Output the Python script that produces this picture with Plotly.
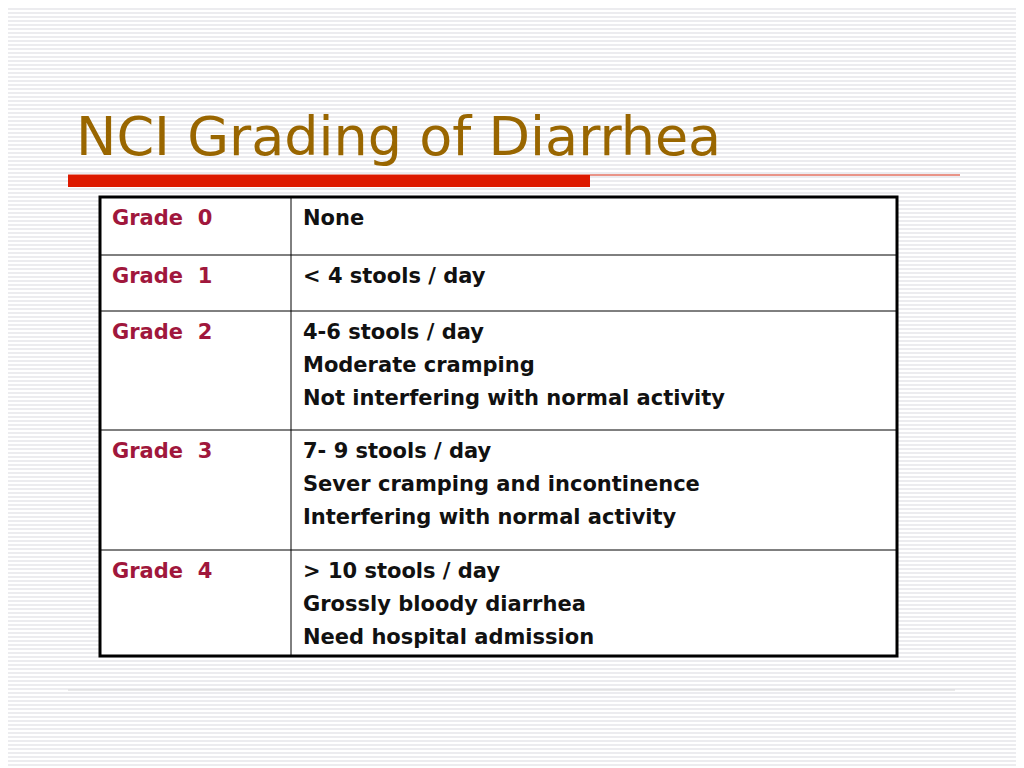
import plotly.graph_objects as go

title = "NCI Grading of Diarrhea"
grades = ["Grade  0", "Grade  1", "Grade  2", "Grade  3", "Grade  4"]
descriptions = [
    ["None"],
    ["< 4 stools / day"],
    ["4-6 stools / day", "Moderate cramping", "Not interfering with normal activity"],
    ["7- 9 stools / day", "Sever cramping and incontinence", "Interfering with normal activity"],
    ["> 10 stools / day", "Grossly bloody diarrhea", "Need hospital admission"],
]
row_bounds = [197, 255, 311, 430, 550, 656]

OFF = 8  # page body margin offset
def X(v): return v - OFF
def Y(v): return v - OFF

shapes = []
y = 1
while y < 780:
    shapes.append(dict(type="line", x0=-20, x1=1040, y0=Y(y), y1=Y(y), line=dict(color="#e6e6ea", width=1.5), layer="below"))
    y += 4

shapes.append(dict(type="line", x0=X(68), x1=X(960), y0=Y(175), y1=Y(175), line=dict(color="#d42a10", width=1)))
shapes.append(dict(type="rect", x0=X(68), x1=X(590), y0=Y(175), y1=Y(187), fillcolor="#dd1a00", line=dict(width=0)))
shapes.append(dict(type="line", x0=X(68), x1=X(955), y0=Y(690), y1=Y(690), line=dict(color="#d6d6d6", width=1)))

x0, xm, x1 = 100, 291, 897
shapes.append(dict(type="rect", x0=X(x0), x1=X(x1), y0=Y(row_bounds[0]), y1=Y(row_bounds[-1]), fillcolor="white", line=dict(color="black", width=3)))
shapes.append(dict(type="line", x0=X(xm), x1=X(xm), y0=Y(row_bounds[0]), y1=Y(row_bounds[-1]), line=dict(color="black", width=1)))
for yb in row_bounds[1:-1]:
    shapes.append(dict(type="line", x0=X(x0), x1=X(x1), y0=Y(yb), y1=Y(yb), line=dict(color="black", width=1)))

annotations = [dict(x=X(74), y=Y(136), text=title, showarrow=False, xanchor="left", yanchor="middle",
                    font=dict(family="DejaVu Sans", size=54, color="#996600"))]
font_b = "DejaVu Sans, sans-serif"
for i, g in enumerate(grades):
    top = row_bounds[i]
    annotations.append(dict(x=X(110), y=Y(top + 21), text="<b>%s</b>" % g, showarrow=False, xanchor="left", yanchor="middle",
                            font=dict(family=font_b, size=21, color="#a0173c")))
    for j, line in enumerate(descriptions[i]):
        annotations.append(dict(x=X(301), y=Y(top + 21 + 33 * j), text="<b>%s</b>" % line.replace("<", "&lt;").replace(">", "&gt;"),
                                showarrow=False, xanchor="left", yanchor="middle",
                                font=dict(family=font_b, size=21, color="#111111")))

fig = go.Figure()
fig.update_layout(width=1024, height=768, margin=dict(l=0, r=0, t=0, b=0),
                  paper_bgcolor="white", plot_bgcolor="white", shapes=shapes, annotations=annotations,
                  xaxis=dict(range=[0, 1024], visible=False, fixedrange=True),
                  yaxis=dict(range=[768, 0], visible=False, fixedrange=True), showlegend=False)
fig.write_html("out.html")
